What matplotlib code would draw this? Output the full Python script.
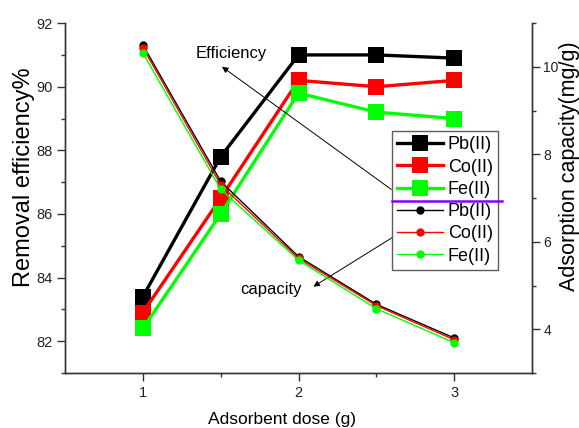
import matplotlib
matplotlib.use("Agg")
import matplotlib.pyplot as plt
from matplotlib.lines import Line2D

plt.rcParams['font.family'] = ['Liberation Sans', 'DejaVu Sans']

dose = [1, 1.5, 2, 2.5, 3]

# removal efficiency (%)
eff_pb = [83.4, 87.8, 91.0, 91.0, 90.9]
eff_co = [82.9, 86.5, 90.2, 90.0, 90.2]
eff_fe = [82.4, 86.0, 89.8, 89.2, 89.0]

# adsorption capacity (mg/g)
cap_pb = [10.50, 7.38, 5.66, 4.57, 3.80]
cap_co = [10.44, 7.30, 5.62, 4.54, 3.76]
cap_fe = [10.32, 7.20, 5.58, 4.47, 3.69]

ions = ['Pb(II)', 'Co(II)', 'Fe(II)']
colors = ['black', '#ff0000', '#00ff00']

fig = plt.figure(figsize=(5.79, 4.28), dpi=100)
ax1 = fig.add_axes([0.1123, 0.1285, 0.8067, 0.8175])
ax2 = ax1.twinx()

handles = []
for vals, c, lab in zip([eff_pb, eff_co, eff_fe], colors, ions):
    h, = ax1.plot(dose, vals, color=c, lw=2.4, marker='s', ms=11,
                  markeredgewidth=0, label=lab)
    handles.append(h)

for vals, c, lab in zip([cap_pb, cap_co, cap_fe], colors, ions):
    h, = ax2.plot(dose, vals, color=c, lw=1.0, marker='o', ms=6,
                  markeredgewidth=0, label=lab)
    handles.append(h)

ax1.set_xlim(0.5, 3.5)
ax1.set_ylim(81, 92)
ax2.set_ylim(3, 11)
ax1.set_xticks([1, 2, 3])
ax1.set_xticks([1.5, 2.5], minor=True)
ax1.set_yticks([82, 84, 86, 88, 90, 92])
ax1.set_yticks([81, 83, 85, 87, 89, 91], minor=True)
ax2.set_yticks([4, 6, 8, 10])
ax2.set_yticks([3, 5, 7, 9, 11], minor=True)

for ax in (ax1, ax2):
    ax.spines['top'].set_visible(False)
    for s in ax.spines.values():
        s.set_linewidth(1.0)
        s.set_color('#333333')
    ax.tick_params(which='major', direction='out', length=5.5, width=1,
                   color='#333333', labelsize=10.5, labelcolor='#222222')
    ax.tick_params(which='minor', direction='out', length=3, width=1,
                   color='#333333')
ax2.tick_params(which='major', labelsize=10, pad=2.5)

ax1.set_xlabel('Adsorbent dose (g)', fontsize=12.5)
ax1.xaxis.set_label_coords(0.465, -0.112)
ax1.set_ylabel('Removal efficiency%', fontsize=17)
ax1.yaxis.set_label_coords(-0.064, 0.56)
ax2.set_ylabel('Adsorption capacity(mg/g)', fontsize=15.5)
ax2.yaxis.set_label_coords(1.058, 0.59)

arrow = dict(arrowstyle='-|>', color='black', lw=0.7, mutation_scale=9)
ax1.annotate('', xy=(1.494, 90.68), xytext=(2.61, 86.72), arrowprops=arrow)
ax1.text(1.565, 91.03, 'Efficiency', fontsize=12, ha='center', va='center')
ax1.annotate('', xy=(2.08, 83.67), xytext=(2.616, 85.30), arrowprops=arrow)
ax1.text(1.82, 83.64, 'capacity', fontsize=12, ha='center', va='center')

leg = ax2.legend(handles=handles, loc='upper left',
                 bbox_to_anchor=(0.677, 0.694), bbox_transform=fig.transFigure,
                 borderaxespad=0, fontsize=13, labelspacing=0.29,
                 handlelength=2.5, handletextpad=0.3, borderpad=0.3,
                 frameon=True, fancybox=False, edgecolor='#333333')
leg.get_frame().set_linewidth(1.0)

# purple divider between the two legend groups
fig.add_artist(Line2D([392 / 579, 502 / 579], [1 - 201 / 428, 1 - 201 / 428],
                      transform=fig.transFigure, color='#8a00ff', lw=1.8,
                      zorder=10))

fig.savefig('out.png', dpi=100)
